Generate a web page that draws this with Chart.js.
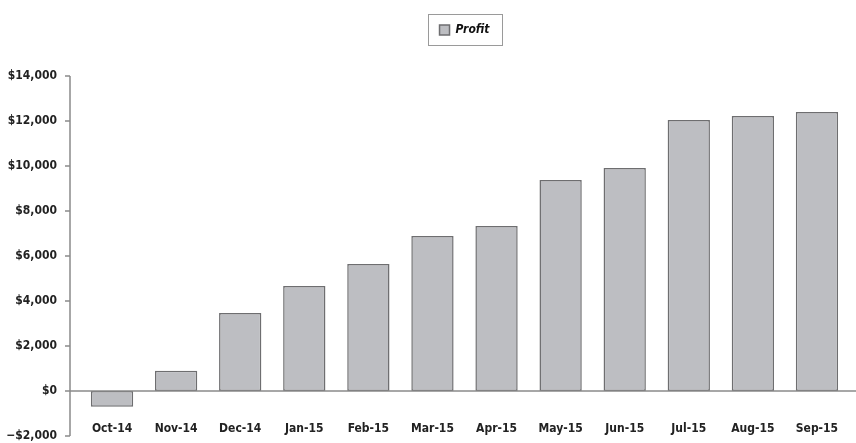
<!DOCTYPE html>
<html>
<head>
<meta charset="utf-8">
<script src="https://cdn.jsdelivr.net/npm/chart.js@4"></script>
<style>
  html, body { margin: 0; padding: 0; background: #fff; }
  #wrap { width: 856px; height: 443px; }
</style>
</head>
<body>
<div id="wrap"><canvas id="profit-chart"></canvas></div>
<script>
const months = ['Oct-14', 'Nov-14', 'Dec-14', 'Jan-15', 'Feb-15', 'Mar-15',
                'Apr-15', 'May-15', 'Jun-15', 'Jul-15', 'Aug-15', 'Sep-15'];
const profit = [-700, 900, 3470, 4670, 5640, 6890, 7330, 9380, 9910, 12040, 12220, 12400];
const yMin = -2000;
const yMax = 14000;
const yStep = 2000;

const fontFamily = "'Liberation Sans Narrow', 'DejaVu Sans Condensed', 'Liberation Sans', sans-serif";
const axisGrey = '#8a8a8a';

// moves the legend up into the space left by the top padding
const legendShift = {
    id: 'legendShift',
    afterLayout(chart) {
        const lg = chart.legend;
        lg.top -= 30;
        lg.bottom -= 30;
    }
};

// draws the y axis line with its outside ticks, the zero line and the legend frame
const axisPlugin = {
    id: 'axisPlugin',
    afterDatasetsDraw(chart) {
        const ctx = chart.ctx;
        const y = chart.scales.y;
        const area = chart.chartArea;
        const axisX = area.left - 10;

        ctx.save();
        ctx.strokeStyle = axisGrey;
        ctx.lineWidth = 1.5;

        ctx.beginPath();
        ctx.moveTo(axisX, y.getPixelForValue(yMax));
        ctx.lineTo(axisX, y.getPixelForValue(yMin));
        ctx.stroke();

        y.ticks.forEach(t => {
            const py = y.getPixelForValue(t.value);
            ctx.beginPath();
            ctx.moveTo(axisX - 5, py);
            ctx.lineTo(axisX, py);
            ctx.stroke();
        });

        const zero = y.getPixelForValue(0);
        ctx.beginPath();
        ctx.moveTo(axisX, zero);
        ctx.lineTo(chart.width, zero);
        ctx.stroke();

        const hb = chart.legend.legendHitBoxes[0];
        if (hb) {
            ctx.lineWidth = 1;
            ctx.strokeStyle = '#9a9a9a';
            ctx.strokeRect(Math.round(hb.left - 12) + 0.5, Math.round(hb.top - 10) + 0.5,
                           Math.round(hb.width + 24), Math.round(hb.height + 19));
        }
        ctx.restore();
    }
};

document.addEventListener('DOMContentLoaded', function () {
    const ctx = document.getElementById('profit-chart').getContext('2d');

    new Chart(ctx, {
        type: 'bar',
        data: {
            labels: months,
            datasets: [
                {
                    label: 'Profit',
                    data: profit,
                    backgroundColor: '#bdbec2',
                    borderColor: '#6e6e70',
                    borderWidth: 1.5,
                    borderSkipped: false,
                    barPercentage: 0.66,
                    categoryPercentage: 1,
                },
            ],
        },
        options: {
            responsive: true,
            maintainAspectRatio: false,
            animation: false,
            layout: {
                padding: { top: 34, right: 7, bottom: 6, left: 0 },
            },
            plugins: {
                tooltip: { enabled: false },
                legend: {
                    position: 'top',
                    fullSize: false,
                    labels: {
                        boxWidth: 10,
                        boxHeight: 10,
                        padding: 20,
                        color: '#111',
                        font: {
                            family: fontFamily,
                            size: 12,
                            weight: 'bold',
                            style: 'italic',
                        },
                    },
                },
            },
            scales: {
                x: {
                    position: { y: -800 },
                    grid: { display: false },
                    border: { display: false },
                    afterFit: scale => { scale.height = 0; },
                    ticks: {
                        padding: 5,
                        color: '#222',
                        maxRotation: 0,
                        font: {
                            family: fontFamily,
                            size: 12,
                            weight: 'bold',
                        },
                    },
                },
                y: {
                    min: yMin,
                    max: yMax,
                    grid: { display: false, drawTicks: false },
                    border: { display: false },
                    afterFit: scale => {
                        scale.width = 80;
                        scale.paddingTop = 7;
                        scale.paddingBottom = 7;
                    },
                    ticks: {
                        stepSize: yStep,
                        padding: 23,
                        color: '#222',
                        callback: v => (v < 0 ? '\u2212$' : '$') + Math.abs(v).toLocaleString('en-US'),
                        font: {
                            family: fontFamily,
                            size: 12,
                            weight: 'bold',
                        },
                    },
                },
            },
        },
        plugins: [legendShift, axisPlugin],
    });
});
</script>
</body>
</html>
